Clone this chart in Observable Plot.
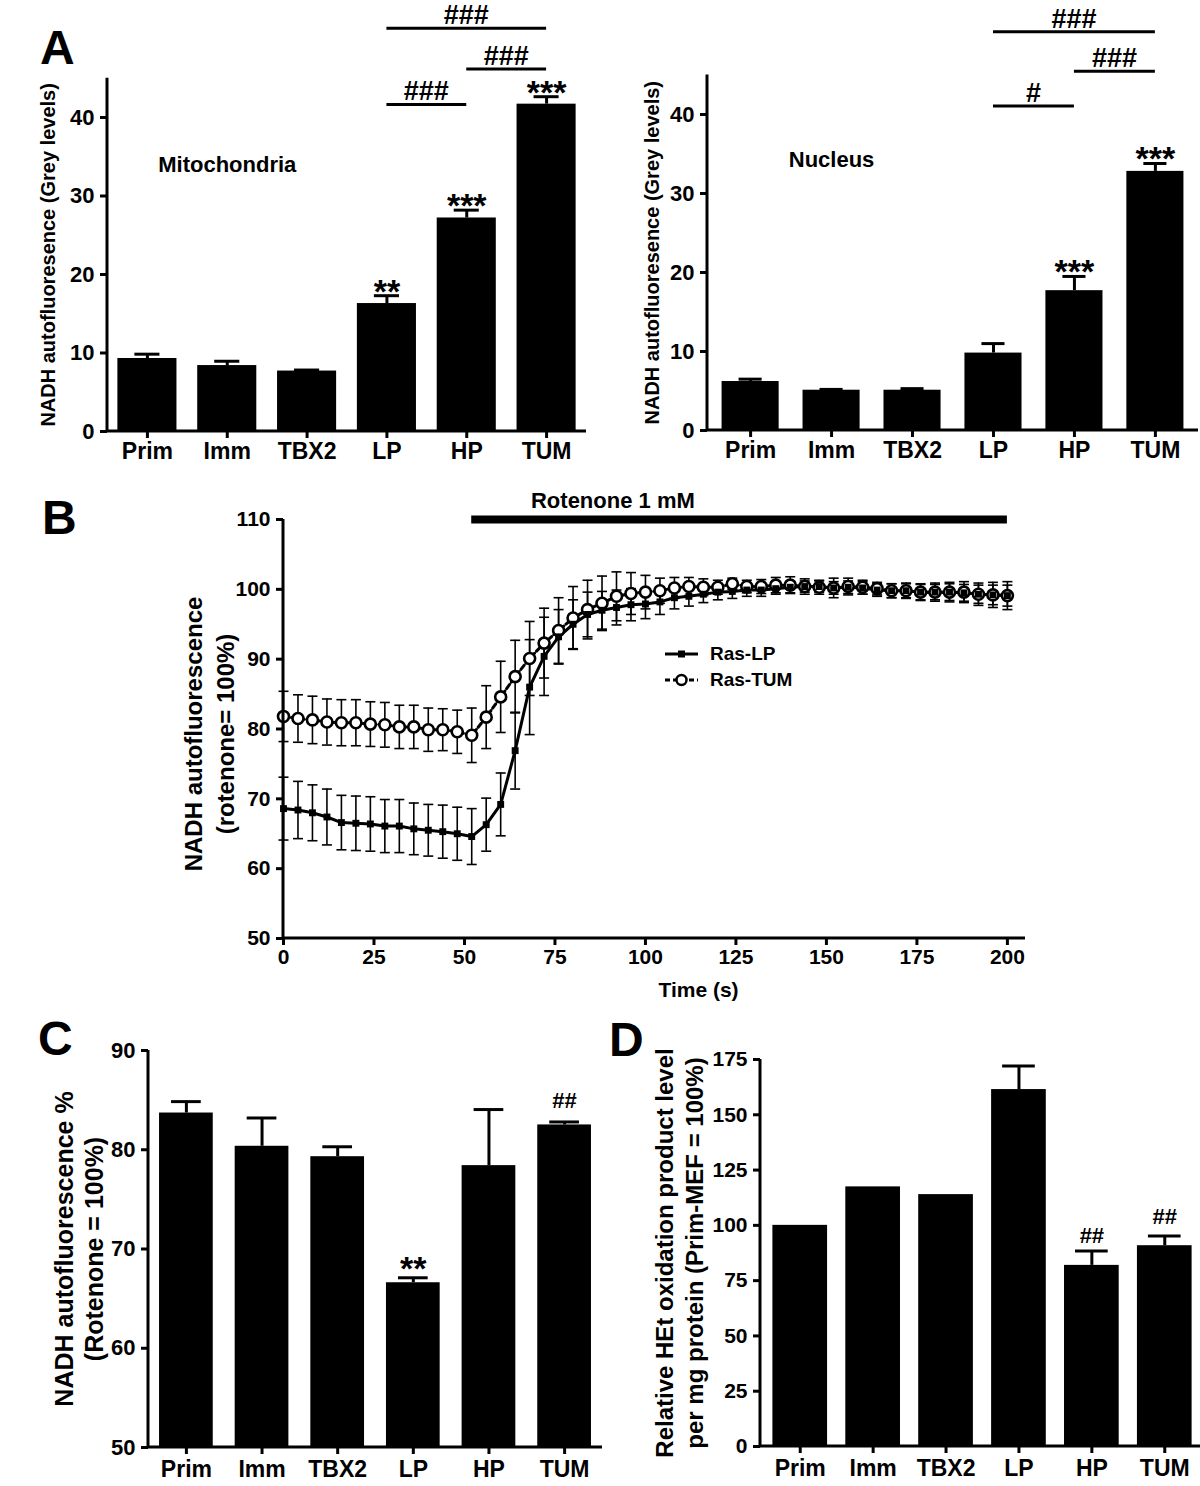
<!DOCTYPE html>
<html><head><meta charset="utf-8">
<script src="https://cdn.jsdelivr.net/npm/d3@7"></script>
<script src="https://cdn.jsdelivr.net/npm/@observablehq/plot@0.6"></script>
<style>
html,body{margin:0;padding:0;background:#fff;}
#fig{position:relative;width:1200px;height:1486px;overflow:hidden;font-family:'Liberation Sans',Arial,Helvetica,sans-serif;color:#000;}
.letter{position:absolute;font-weight:bold;font-size:48px;line-height:48px;}
.legend{position:absolute;font-weight:bold;font-size:19px;line-height:26px;}
.legend .row{display:flex;align-items:center;height:26px;}
.legend svg{margin-right:8px;}
</style></head><body><div id="fig"></div>
<script>
// ---------- DATA ----------
const categories = ["Prim", "Imm", "TBX2", "LP", "HP", "TUM"];

// Panel A – mitochondria
const mitoMean = [9.3, 8.4, 7.7, 16.3, 27.2, 41.7];
const mitoErr  = [0.55, 0.55, 0.13, 1.0, 1.0, 0.95];
const mitoStars = ["", "", "", "**", "***", "***"];
const mitoComparisons = [["LP", "HP", 41.6, "###"], ["HP", "TUM", 46.1, "###"], ["LP", "TUM", 51.3, "###"]];

// Panel A – nucleus
const nucMean = [6.2, 5.1, 5.1, 9.8, 17.7, 32.8];
const nucErr  = [0.3, 0.1, 0.2, 1.2, 1.8, 1.0];
const nucStars = ["", "", "", "", "***", "***"];
const nucComparisons = [["LP", "HP", 41.0, "#"], ["HP", "TUM", 45.4, "###"], ["LP", "TUM", 50.4, "###"]];

// Panel B – time course
const time = [0, 4, 8, 12, 16, 20, 24, 28, 32, 36, 40, 44, 48, 52, 56, 60, 64, 68, 72, 76, 80, 84, 88, 92, 96, 100,
  104, 108, 112, 116, 120, 124, 128, 132, 136, 140, 144, 148, 152, 156, 160, 164, 168, 172, 176, 180, 184, 188, 192, 196, 200];
const lpMean = [68.6, 68.4, 68.0, 67.4, 66.6, 66.5, 66.4, 66.1, 66.1, 65.7, 65.5, 65.3, 65.0, 64.6,
  66.3, 69.2, 76.9, 86.0, 90.4, 93.2, 95.0, 96.4, 97.0, 97.4, 97.8, 97.9,
  98.2, 98.8, 99.0, 99.3, 99.6, 99.7, 99.9, 99.9, 100.1, 100.3, 100.4, 100.4, 100.2, 100.3, 100.2, 99.9, 99.8, 99.8, 99.6, 99.6, 99.6, 99.5, 99.3, 99.2, 99.1];
const lpErr = [4.5, 4.1, 4.0, 4.0, 3.9, 3.9, 3.9, 3.8, 3.8, 3.7, 3.7, 3.8, 3.8, 4.0,
  3.8, 4.5, 5.5, 6.8, 5.6, 3.9, 3.5, 3.2, 2.7, 2.5, 2.3, 2.1,
  1.8, 1.6, 1.4, 1.2, 1.1, 1.0, 0.9, 0.9, 0.8, 0.8, 0.8, 0.8, 0.9, 0.9, 0.9, 0.9, 1.0, 1.0, 1.1, 1.1, 1.2, 1.2, 1.3, 1.4, 1.5];
const tumMean = [81.8, 81.5, 81.3, 81.0, 80.9, 80.9, 80.7, 80.6, 80.3, 80.3, 79.9, 79.9, 79.6, 79.1,
  81.7, 84.6, 87.5, 90.1, 92.3, 94.1, 95.9, 97.1, 98.0, 99.0, 99.4, 99.6,
  99.8, 100.2, 100.4, 100.3, 100.3, 100.8, 100.4, 100.4, 100.6, 100.6, 100.4, 100.3, 100.2, 100.4, 100.3, 100.1, 99.8, 99.8, 99.6, 99.6, 99.6, 99.6, 99.3, 99.2, 99.1];
const tumErr = [3.6, 3.4, 3.4, 3.3, 3.3, 3.3, 3.2, 3.2, 3.1, 3.1, 3.1, 3.0, 3.1, 3.9,
  4.5, 5.1, 5.2, 5.3, 5.0, 4.7, 4.5, 4.2, 3.9, 3.5, 3.0, 2.4,
  1.8, 1.5, 1.3, 1.2, 1.0, 0.8, 0.9, 1.0, 1.1, 1.2, 1.1, 1.0, 1.4, 1.2, 1.0, 0.9, 1.0, 1.1, 1.2, 1.3, 1.4, 1.5, 1.6, 1.8, 2.0];
const seriesNames = ["Ras-LP", "Ras-TUM"];
const rotenoneStart = 52, rotenoneEnd = 200, rotenoneLevel = 110;
const rotenoneLabel = "Rotenone 1 mM";
const rotenoneLabelT = 91;

// Panel C
const cMean = [83.7, 80.35, 79.3, 66.6, 78.4, 82.5];
const cErr  = [1.15, 2.85, 1.0, 0.5, 5.65, 0.3];
const cStars = ["", "", "", "**", "", ""];
const cHashes = ["", "", "", "", "", "##"];

// Panel D
const dMean = [100.0, 117.4, 113.9, 161.4, 81.9, 90.8];
const dErr  = [0, 0, 0, 10.7, 6.5, 4.4];
const dHashes = ["", "", "", "", "##", "##"];

// ---------- HELPERS ----------
const FONT = "'Liberation Sans', Arial, Helvetica, sans-serif";
const fig = document.getElementById("fig");
function place(el, left, top) {
  el.style.position = "absolute";
  el.style.left = left + "px";
  el.style.top = top + "px";
  fig.appendChild(el);
}
const baseStyle = {background: "transparent", fontFamily: FONT, color: "black", overflow: "visible"};

function axisFrame() {
  return (index, scales, values, dims) => {
    const {width, height, marginLeft, marginRight, marginTop, marginBottom} = dims;
    return d3.create("svg:path")
      .attr("d", `M${marginLeft},${marginTop}V${height - marginBottom}H${width - marginRight}`)
      .attr("fill", "none").attr("stroke", "black").attr("stroke-width", 3)
      .node();
  };
}

function comparisonMark(comps, fontSize) {
  return (index, scales) => {
    const {x, y} = scales;
    const half = x.bandwidth ? x.bandwidth() / 2 : 0;
    const g = d3.create("svg:g");
    for (const [a, b, v, label] of comps) {
      const xa = x(a) + half, xb = x(b) + half, yy = y(v);
      g.append("line").attr("x1", xa).attr("x2", xb).attr("y1", yy).attr("y2", yy)
        .attr("stroke", "black").attr("stroke-width", 3);
      g.append("text").attr("x", (xa + xb) / 2).attr("y", yy - 4)
        .attr("text-anchor", "middle").attr("font-size", fontSize).attr("font-weight", "bold")
        .attr("fill", "black").text(label);
    }
    return g.node();
  };
}

function barPanel(cfg) {
  const rows = categories.map((c, i) => ({
    cat: c, v: cfg.mean[i], e: cfg.err[i],
    star: cfg.stars ? cfg.stars[i] : "", hash: cfg.hashes ? cfg.hashes[i] : ""
  }));
  const withErr = rows.filter(d => d.e > 0);
  const marks = [
    Plot.barY(rows, {x: "cat", y1: cfg.yDomain[0], y2: "v", fill: "black"}),
    Plot.ruleX(withErr, {x: "cat", y1: "v", y2: d => d.v + d.e, stroke: "black", strokeWidth: 3}),
    Plot.tickY(withErr, {x: "cat", y: d => d.v + d.e, stroke: "black", strokeWidth: 3, inset: cfg.capInset}),
    axisFrame(),
    Plot.axisY({ticks: cfg.yTicks, tickSize: 7, tickPadding: 6, strokeWidth: 3, fontSize: cfg.yTickSize ?? 22, fontWeight: "bold", label: null}),
    Plot.axisX({tickSize: 7, tickPadding: cfg.xPad ?? 4, strokeWidth: 3, fontSize: 23, fontWeight: "bold", label: null}),
    Plot.text(rows.filter(d => d.star), {x: "cat", y: d => d.v + d.e, text: "star", fontSize: 34, fontWeight: "bold", lineAnchor: "bottom", dy: cfg.starDy ?? 7}),
    Plot.text(rows.filter(d => d.hash), {x: "cat", y: "v", text: "hash", fontSize: 22, fontWeight: "bold", lineAnchor: "bottom", dy: cfg.hashDy ?? -20}),
    Plot.text([cfg.yLabel], {frameAnchor: "left", textAnchor: "middle", rotate: -90, dx: cfg.labelDx, dy: cfg.labelDy ?? 0, text: d => d, fontSize: cfg.labelSize, fontWeight: "bold", lineHeight: cfg.lineHeight ?? 1.2})
  ];
  if (cfg.comparisons) marks.push(comparisonMark(cfg.comparisons, 27));
  if (cfg.region) marks.push(Plot.text([cfg.region], {x: () => cfg.regionAt[0], y: () => cfg.regionAt[1], text: d => d, fontSize: 22, fontWeight: "bold"}));
  const svg = Plot.plot({
    width: cfg.width, height: cfg.height,
    marginLeft: cfg.margin[3], marginRight: cfg.margin[1], marginTop: cfg.margin[0], marginBottom: cfg.margin[2],
    x: {type: "band", domain: categories, paddingInner: cfg.pi, paddingOuter: cfg.po, round: false},
    y: {domain: cfg.yDomain, nice: false},
    style: baseStyle,
    marks
  });
  place(svg, cfg.left, cfg.top);
}

// ---------- PANEL A ----------
barPanel({
  left: 0, top: 0, width: 600, height: 470, margin: [77.75, 14, 39, 107],
  pi: 0.26, po: 0.13, yDomain: [0, 45], yTicks: [0, 10, 20, 30, 40],
  mean: mitoMean, err: mitoErr, stars: mitoStars, comparisons: mitoComparisons,
  capInset: 17, starDy: 7,
  yLabel: "NADH autofluoresence (Grey levels)", labelDx: -60, labelSize: 20,
  region: "Mitochondria", regionAt: ["Imm", 34]
});
barPanel({
  left: 600, top: 0, width: 600, height: 470, margin: [74.5, 2, 40, 107],
  pi: 0.295, po: 0.18, yDomain: [0, 45], yTicks: [0, 10, 20, 30, 40],
  mean: nucMean, err: nucErr, stars: nucStars, comparisons: nucComparisons,
  capInset: 17, starDy: 7,
  yLabel: "NADH autofluoresence (Grey levels)", labelDx: -56, labelSize: 20,
  region: "Nucleus", regionAt: ["Imm", 34.2]
});

// ---------- PANEL B ----------
{
  const lpRows = time.map((t, i) => ({t, v: lpMean[i], e: lpErr[i]}));
  const tumRows = time.map((t, i) => ({t, v: tumMean[i], e: tumErr[i]}));
  const capHalf = 5;
  const capSymbol = {draw(ctx, size) { const w = Math.sqrt(size); ctx.moveTo(-w, 0); ctx.lineTo(w, 0); }};
  const capR = capHalf / Math.sqrt(Math.PI);
  const errMarks = rows => [
    Plot.ruleX(rows, {x: "t", y1: d => d.v - d.e, y2: d => d.v + d.e, stroke: "black", strokeWidth: 1.6}),
    Plot.dot(rows, {x: "t", y: d => d.v + d.e, symbol: capSymbol, r: capR, fill: "none", stroke: "black", strokeWidth: 1.6}),
    Plot.dot(rows, {x: "t", y: d => d.v - d.e, symbol: capSymbol, r: capR, fill: "none", stroke: "black", strokeWidth: 1.6})
  ];
  const svg = Plot.plot({
    width: 1200, height: 540, marginLeft: 283, marginRight: 175, marginTop: 49, marginBottom: 72,
    x: {domain: [0, 205], nice: false},
    y: {domain: [50, 110], nice: false},
    style: baseStyle,
    marks: [
      ...errMarks(lpRows),
      ...errMarks(tumRows),
      Plot.lineY(lpRows, {x: "t", y: "v", stroke: "black", strokeWidth: 3}),
      Plot.lineY(tumRows, {x: "t", y: "v", stroke: "black", strokeWidth: 3, strokeDasharray: "5,3"}),
      Plot.dot(tumRows, {x: "t", y: "v", r: 5.5, fill: "white", stroke: "black", strokeWidth: 2.6}),
      Plot.dot(lpRows, {x: "t", y: "v", symbol: "square", r: 3.9, fill: "black"}),
      Plot.ruleY([rotenoneLevel], {x1: rotenoneStart, x2: rotenoneEnd, stroke: "black", strokeWidth: 8}),
      Plot.text([rotenoneLabel], {x: () => rotenoneLabelT, y: () => rotenoneLevel, text: d => d, dy: -12, lineAnchor: "bottom", fontSize: 22, fontWeight: "bold"}),
      axisFrame(),
      Plot.axisY({ticks: [50, 60, 70, 80, 90, 100, 110], tickSize: 7, tickPadding: 6, strokeWidth: 3, fontSize: 21, fontWeight: "bold", label: null}),
      Plot.axisX({ticks: [0, 25, 50, 75, 100, 125, 150, 175, 200], tickSize: 7, tickPadding: 4, strokeWidth: 3, fontSize: 21, fontWeight: "bold", label: null}),
      Plot.text(["NADH autofluorescence\n(rotenone= 100%)"], {frameAnchor: "left", textAnchor: "middle", rotate: -90, dx: -75.5, dy: 5, text: d => d, fontSize: 24, fontWeight: "bold", lineHeight: 1.3}),
      Plot.text(["Time (s)"], {frameAnchor: "bottom", dx: 44, dy: 44, lineAnchor: "top", text: d => d, fontSize: 21, fontWeight: "bold"})
    ]
  });
  place(svg, 0, 470);

  // legend
  const leg = document.createElement("div");
  leg.className = "legend";
  seriesNames.forEach((name, i) => {
    const row = document.createElement("div");
    row.className = "row";
    const icon = i === 0
      ? `<svg width="40" height="26"><line x1="3" x2="36" y1="13" y2="13" stroke="black" stroke-width="3"/><rect x="16" y="9.5" width="7" height="7" fill="black"/></svg>`
      : `<svg width="40" height="26"><line x1="3" x2="36" y1="13" y2="13" stroke="black" stroke-width="3" stroke-dasharray="5,3"/><circle cx="19.5" cy="13" r="5" fill="white" stroke="black" stroke-width="2.5"/></svg>`;
    row.innerHTML = icon + `<span>${name}</span>`;
    leg.appendChild(row);
  });
  place(leg, 662, 641);
}

// ---------- PANEL C ----------
barPanel({
  left: 0, top: 1010, width: 604, height: 476, margin: [40, 2, 39, 148],
  pi: 0.29, po: 0.146, yDomain: [50, 90], yTicks: [50, 60, 70, 80, 90],
  mean: cMean, err: cErr, stars: cStars, hashes: cHashes,
  capInset: 12, starDy: 2, hashDy: -17, xPad: 6,
  yLabel: "NADH autofluorescence %\n(Rotenone = 100%)", labelDx: -70, labelSize: 25, lineHeight: 1.2
});

// ---------- PANEL D ----------
barPanel({
  left: 600, top: 1010, width: 604, height: 476, margin: [49, 0, 40, 160],
  pi: 0.25, po: 0.17, yDomain: [0, 175], yTicks: [0, 25, 50, 75, 100, 125, 150, 175],
  mean: dMean, err: dErr, hashes: dHashes, yTickSize: 21,
  capInset: 11, hashDy: -22, xPad: 6,
  yLabel: "Relative HEt oxidation product level\nper mg protein (Prim-MEF = 100%)", labelDx: -82, labelSize: 24, lineHeight: 1.25
});

// ---------- PANEL LETTERS ----------
[["A", 40, 24], ["B", 42, 494], ["C", 38, 1015], ["D", 609, 1016]].forEach(([t, l, tp]) => {
  const d = document.createElement("div");
  d.className = "letter";
  d.textContent = t;
  place(d, l, tp);
});
</script></body></html>
